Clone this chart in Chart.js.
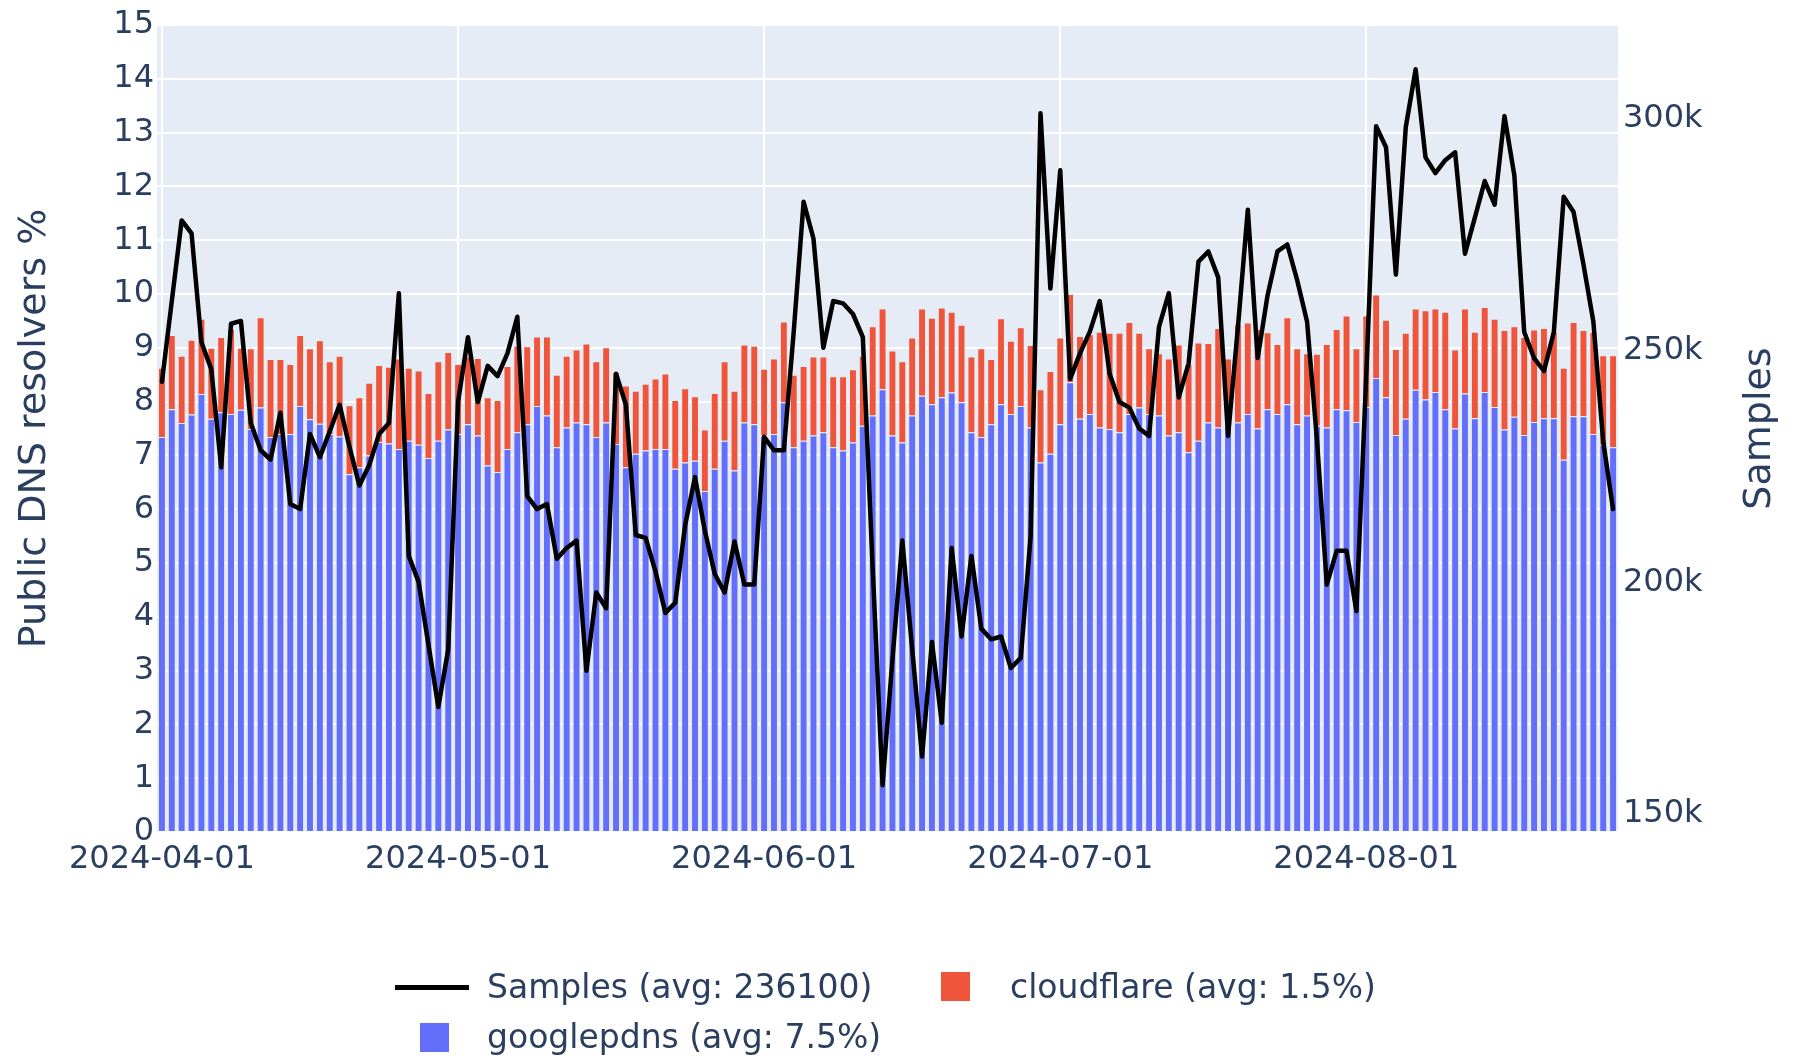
<!DOCTYPE html>
<html><head><meta charset="utf-8">
<script src="https://cdn.jsdelivr.net/npm/chart.js@4.4.1/dist/chart.umd.min.js"></script>
<style>
html,body{margin:0;padding:0;background:#fff;}
#wrap{position:relative;width:1795px;height:1058px;overflow:hidden;}
canvas{position:absolute;left:0;top:0;}
.lg{position:absolute;font-family:"DejaVu Sans";font-size:33px;color:#2a3f5f;white-space:nowrap;height:40px;line-height:40px;}
.sym{position:absolute;}
</style></head><body>
<div id="wrap">
<canvas id="c" width="1795" height="1058" style="width:1795px;height:1058px"></canvas>
<div class="sym" style="left:395px;top:985px;width:74px;height:5px;background:#000"></div>
<div class="lg" style="left:487px;top:967px">Samples (avg: 236100)</div>
<div class="sym" style="left:941px;top:972px;width:29px;height:29px;background:#EF553B"></div>
<div class="lg" style="left:1010px;top:967px">cloudflare (avg: 1.5%)</div>
<div class="sym" style="left:420px;top:1023px;width:29px;height:29px;background:#636EFA"></div>
<div class="lg" style="left:487px;top:1017px">googlepdns (avg: 7.5%)</div>
</div>
<script>
const startDate = '2024-04-01';
const monthTicks = ['2024-04-01','2024-05-01','2024-06-01','2024-07-01','2024-08-01'];
const samplesTicks = [150000,200000,250000,300000];

const googlepdns = [7.34,7.86,7.6,7.76,8.14,7.68,7.8,7.77,7.85,7.49,
 7.89,7.34,7.4,7.4,7.92,7.67,7.59,7.4,7.35,6.65,
 6.78,7.0,7.25,7.22,7.12,7.27,7.2,6.95,7.27,7.48,
 7.4,7.58,7.37,6.81,6.69,7.12,7.43,7.58,7.92,7.74,
 7.15,7.52,7.61,7.58,7.34,7.61,7.21,6.78,7.03,7.09,
 7.12,7.12,6.75,6.87,6.9,6.34,6.75,7.27,6.72,7.61,
 7.58,7.37,7.4,7.99,7.15,7.27,7.37,7.43,7.15,7.09,
 7.24,7.55,7.74,8.23,7.37,7.24,7.74,8.11,7.95,8.08,
 8.17,7.99,7.43,7.34,7.58,7.95,7.77,7.92,7.52,6.87,
 7.03,7.58,8.36,7.68,7.77,7.52,7.49,7.43,7.77,7.89,
 7.77,7.74,7.37,7.43,7.06,7.27,7.61,7.52,7.55,7.61,
 7.77,7.5,7.86,7.77,7.95,7.58,7.74,7.55,7.52,7.86,
 7.84,7.62,7.9,8.44,8.08,7.38,7.68,8.22,8.04,8.18,
 7.86,7.5,8.15,7.69,8.18,7.9,7.48,7.72,7.38,7.62,
 7.69,7.69,6.92,7.73,7.73,7.4,7.2,7.15];

const cloudflare = [1.29,1.38,1.25,1.39,1.40,1.32,1.40,1.58,1.15,1.50,
 1.68,1.45,1.39,1.30,1.32,1.32,1.55,1.35,1.50,1.28,
 1.30,1.35,1.43,1.43,1.68,1.36,1.38,1.21,1.48,1.44,
 1.30,1.26,1.44,1.27,1.34,1.54,1.61,1.45,1.29,1.47,
 1.35,1.33,1.36,1.50,1.41,1.40,1.34,1.52,1.17,1.24,
 1.31,1.40,1.28,1.38,1.20,1.14,1.41,1.48,1.48,1.45,
 1.46,1.24,1.40,1.50,1.35,1.39,1.47,1.41,1.32,1.38,
 1.36,1.30,1.66,1.50,1.58,1.51,1.45,1.62,1.61,1.67,
 1.50,1.44,1.41,1.65,1.21,1.60,1.36,1.46,1.53,1.36,
 1.54,1.61,1.64,1.54,1.48,1.78,1.79,1.85,1.71,1.39,
 1.22,1.16,1.43,1.63,1.64,1.83,1.48,1.85,1.25,1.83,
 1.70,1.85,1.43,1.30,1.62,1.41,1.16,1.34,1.55,1.49,
 1.76,1.37,1.70,1.55,1.44,1.60,1.60,1.51,1.66,1.55,
 1.81,1.47,1.58,1.61,1.58,1.64,1.85,1.68,1.82,1.72,
 1.68,1.61,1.71,1.75,1.60,1.90,1.66,1.71];

const samples = [243300,260700,278100,275300,251800,246000,224800,255800,256400,234400,
 228500,226500,236600,216900,215800,232000,227000,232600,238300,229200,
 220900,225300,232000,234400,262400,205700,200100,186500,173100,185500,
 239000,252900,238900,246700,244500,249400,257300,218600,215800,216900,
 205100,207400,209000,180900,197800,194400,245000,238300,210200,209600,
 202300,193400,195600,212300,222700,211100,201800,197800,208800,199500,
 199500,231400,228500,228500,254100,282100,274200,250600,260700,260200,
 257900,252900,203000,156200,183300,209000,185600,162400,187100,169700,
 207400,188300,205700,190000,187700,188300,181500,183700,210000,301200,
 263400,288900,243900,249400,254100,260700,245000,238900,237700,233200,
 231600,255100,262400,239900,247200,269200,271400,265800,231600,255100,
 280400,248400,261900,271400,272900,265200,256300,230900,199500,206800,
 206800,193800,244800,298400,293900,266400,298200,310700,291700,288300,
 291100,292800,270900,278700,286600,281500,300600,287800,254000,248400,
 245600,254000,283200,279900,268600,256300,230400,215800];

// category labels: consecutive days starting at startDate
const labels = [];
(function(){
  const d0 = new Date(startDate + 'T00:00:00Z');
  for (let i = 0; i < googlepdns.length; i++) {
    const d = new Date(d0.getTime() + i * 86400000);
    labels.push(d.toISOString().slice(0,10));
  }
})();

const TEXT = '#2a3f5f';
const FONT = 'DejaVu Sans';

const bgPlugin = {
  id: 'plotbg',
  beforeDraw(chart) {
    const a = chart.chartArea, c = chart.ctx;
    c.save(); c.fillStyle = '#E5ECF6';
    c.fillRect(a.left, a.top, a.right - a.left, a.bottom - a.top);
    c.restore();
  },
  afterDraw(chart) {
    const a = chart.chartArea, c = chart.ctx;
    c.save();
    c.translate(1760, (a.top + a.bottom) / 2);
    c.rotate(-Math.PI / 2);
    c.font = '38px "' + FONT + '"';
    c.fillStyle = TEXT; c.textAlign = 'center'; c.textBaseline = 'middle';
    c.fillText('Samples', 0, 0);
    c.restore();
  }
};

new Chart(document.getElementById('c'), {
  data: {
    labels: labels,
    datasets: [
      { type: 'line', label: 'Samples (avg: 236100)', data: samples, yAxisID: 'y1',
        borderColor: '#000', borderWidth: 4.5, pointRadius: 0, tension: 0,
        borderJoinStyle: 'round', borderCapStyle: 'round', order: 0 },
      { type: 'bar', label: 'googlepdns (avg: 7.5%)', data: googlepdns, yAxisID: 'y',
        backgroundColor: '#636EFA', borderColor: '#E5ECF6', borderWidth: 1,
        barPercentage: 0.8, categoryPercentage: 1, stack: 's', order: 1 },
      { type: 'bar', label: 'cloudflare (avg: 1.5%)', data: cloudflare, yAxisID: 'y',
        backgroundColor: '#EF553B', borderColor: '#E5ECF6', borderWidth: 1,
        barPercentage: 0.8, categoryPercentage: 1, stack: 's', order: 1 }
    ]
  },
  options: {
    responsive: false, animation: false, devicePixelRatio: 1,
    layout: { padding: { top: 25, left: 0, right: 0, bottom: 0 } },
    plugins: { legend: { display: false }, tooltip: { enabled: false } },
    scales: {
      x: {
        stacked: true, offset: true,
        grid: { offset: false, drawTicks: false, lineWidth: 2,
          color: (ctx) => (ctx.index !== undefined && monthTicks.includes(labels[ctx.index])) ? '#ffffff' : 'rgba(0,0,0,0)' },
        border: { display: false },
        ticks: { autoSkip: false, maxRotation: 0, minRotation: 0, padding: 8,
          font: { family: FONT, size: 32 }, color: TEXT,
          callback: function(v, i) { const l = labels[i]; return monthTicks.includes(l) ? l : ''; } },
        afterFit(s) { s.height = 226; }
      },
      y: {
        stacked: true, position: 'left', min: 0, max: 15,
        grid: { color: '#ffffff', lineWidth: 2, drawTicks: false },
        border: { display: false },
        ticks: { stepSize: 1, padding: 3, font: { family: FONT, size: 32 }, color: TEXT },
        title: { display: true, text: 'Public DNS resolvers %', color: TEXT,
          font: { family: FONT, size: 38 }, padding: { top: 12, bottom: 0 } },
        afterFit(s) { s.width = 157; }
      },
      y1: {
        position: 'right', min: 146116, max: 320266,
        grid: { display: false, drawTicks: false }, border: { display: false },
        afterBuildTicks(s) { s.ticks = samplesTicks.map(v => ({ value: v })); },
        ticks: { padding: 5, font: { family: FONT, size: 32 }, color: TEXT,
          callback: (v) => (v / 1000) + 'k' },
        afterFit(s) { s.width = 177; }
      }
    }
  },
  plugins: [bgPlugin]
});
</script>
</body></html>
